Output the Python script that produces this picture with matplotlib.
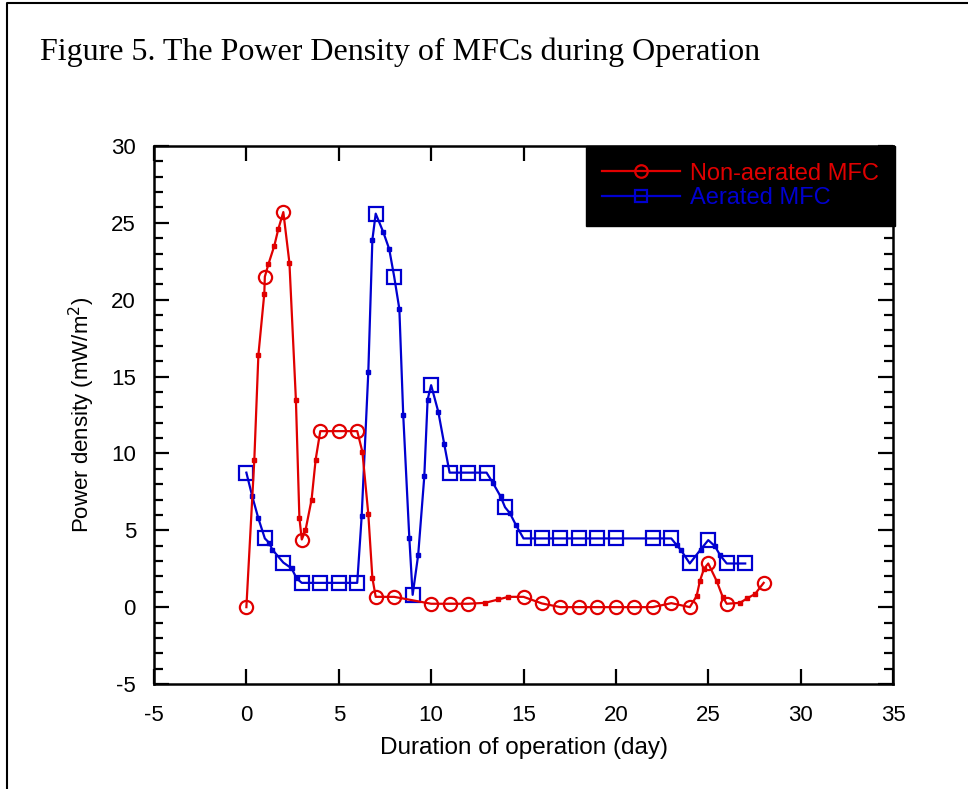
import matplotlib.pyplot as plt
from matplotlib.lines import Line2D
from matplotlib.ticker import MultipleLocator

plt.rcParams["font.family"] = ["Liberation Sans", "DejaVu Sans"]
plt.rcParams["axes.unicode_minus"] = False

# main markers
red_day = [0, 1, 2, 3, 4, 5, 6, 7, 8, 10, 11, 12, 15, 16, 17, 18, 19, 20,
           21, 22, 23, 24, 25, 26, 28]
red_pd = [0.0, 21.5, 25.7, 4.4, 11.45, 11.45, 11.45, 0.67, 0.67, 0.22, 0.22,
          0.22, 0.67, 0.24, 0.0, 0.0, 0.0, 0.0, 0.0, 0.0, 0.26, 0.0, 2.84,
          0.22, 1.58]

blue_day = [0, 1, 2, 3, 4, 5, 6, 7, 8, 9, 10, 11, 12, 13, 14, 15, 16, 17,
            18, 19, 20, 22, 23, 24, 25, 26, 27]
blue_pd = [8.75, 4.47, 2.9, 1.58, 1.58, 1.58, 1.58, 25.6, 21.5, 0.8, 14.44,
           8.75, 8.75, 8.75, 6.5, 4.47, 4.47, 4.47, 4.47, 4.47, 4.47, 4.47,
           4.47, 2.84, 4.36, 2.84, 2.84]

# small tick points along the smoothed lines
red_mid_day = [0.43, 0.65, 0.97, 1.19, 1.51, 1.73, 2.33, 2.68, 2.87, 3.2,
               3.53, 3.75, 6.28, 6.6, 6.82, 12.92, 13.64, 14.18, 24.37,
               24.55, 24.77, 25.46, 25.78, 26.72, 27.1, 27.53]
red_mid_pd = [9.6, 16.4, 20.4, 22.3, 23.5, 24.6, 22.4, 13.5, 5.8, 5.0, 7.0,
              9.6, 10.1, 6.05, 1.9, 0.28, 0.5, 0.67, 0.72, 1.71, 2.5, 1.69,
              0.67, 0.28, 0.57, 0.85]

blue_mid_day = [0.32, 0.65, 1.24, 1.4, 2.45, 2.72, 6.24, 6.6, 6.82, 7.41,
                7.73, 8.28, 8.49, 8.82, 9.3, 9.63, 9.81, 10.39, 10.71, 13.36,
                13.76, 14.27, 14.59, 23.29, 23.5, 24.59, 25.36, 25.64]
blue_mid_pd = [7.2, 5.77, 4.18, 3.75, 2.52, 1.87, 5.9, 15.3, 23.9, 24.4,
               23.3, 19.4, 12.5, 4.5, 3.4, 8.5, 13.5, 12.7, 10.6, 8.05, 7.2,
               6.1, 5.34, 4.03, 3.75, 3.75, 3.97, 3.38]

RED = "#e00000"
BLUE = "#0000d0"


def path(day, pd, mid_day, mid_pd):
    pts = sorted(zip(list(day) + list(mid_day), list(pd) + list(mid_pd)))
    return [p[0] for p in pts], [p[1] for p in pts]


fig = plt.figure(figsize=(9.68, 7.89), dpi=100)
ax = fig.add_axes([154 / 968, 1 - 684 / 789, 739 / 968, 538 / 789])

for day, pd, mday, mpd, col, mk, z in [
        (blue_day, blue_pd, blue_mid_day, blue_mid_pd, BLUE, "s", 3),
        (red_day, red_pd, red_mid_day, red_mid_pd, RED, "o", 4)]:
    px, py = path(day, pd, mday, mpd)
    ax.plot(px, py, color=col, lw=1.6, zorder=z)
    ax.plot(mday, mpd, ls="none", marker="s", ms=2.5, color=col, zorder=z)
    ax.plot(day, pd, ls="none", marker=mk, ms=9.5, mfc="none", mec=col,
            mew=1.6, zorder=z)

handles = [Line2D([], [], color=RED, lw=1.6, marker="o", ms=9, mfc="none", mew=1.6),
           Line2D([], [], color=BLUE, lw=1.6, marker="s", ms=9, mfc="none", mew=1.6)]
leg = ax.legend(handles, ["Non-aerated MFC", "Aerated MFC"], loc="upper right",
                bbox_to_anchor=(1.003, 1.0), borderaxespad=0, fontsize=17,
                handlelength=3.3, handletextpad=0.4, labelspacing=0.12,
                borderpad=0.7, fancybox=False, framealpha=1,
                facecolor="black", edgecolor="black", labelcolor="linecolor")
leg.set_zorder(10)

ax.set_xlim(-5, 35)
ax.set_ylim(-5, 30)
ax.xaxis.set_major_locator(MultipleLocator(5))
ax.yaxis.set_major_locator(MultipleLocator(5))
ax.yaxis.set_minor_locator(MultipleLocator(1))
ax.tick_params(which="both", direction="in", top=True, right=True, width=1.6,
               labelsize=16)
ax.tick_params(which="major", length=11)
ax.tick_params(which="minor", length=6.5)
ax.tick_params(axis="x", pad=15)
ax.tick_params(axis="y", pad=13)
for s in ax.spines.values():
    s.set_linewidth(1.8)

ax.set_xlabel("Duration of operation (day)", fontsize=17.5, labelpad=8)
ax.set_ylabel("Power density (mW/m$^2$)", fontsize=16, labelpad=10)

fig.text(40 / 968, 1 - 52 / 789, "Figure 5. The Power Density of MFCs during Operation",
         fontsize=23, family="Liberation Serif", va="center", ha="left")

# outer frame of the figure panel
fig.add_artist(Line2D([7 / 968, 7 / 968, 1], [0, 1 - 3 / 789, 1 - 3 / 789],
                      color="black", lw=1.5, transform=fig.transFigure))

fig.savefig("out.png", dpi=100)
